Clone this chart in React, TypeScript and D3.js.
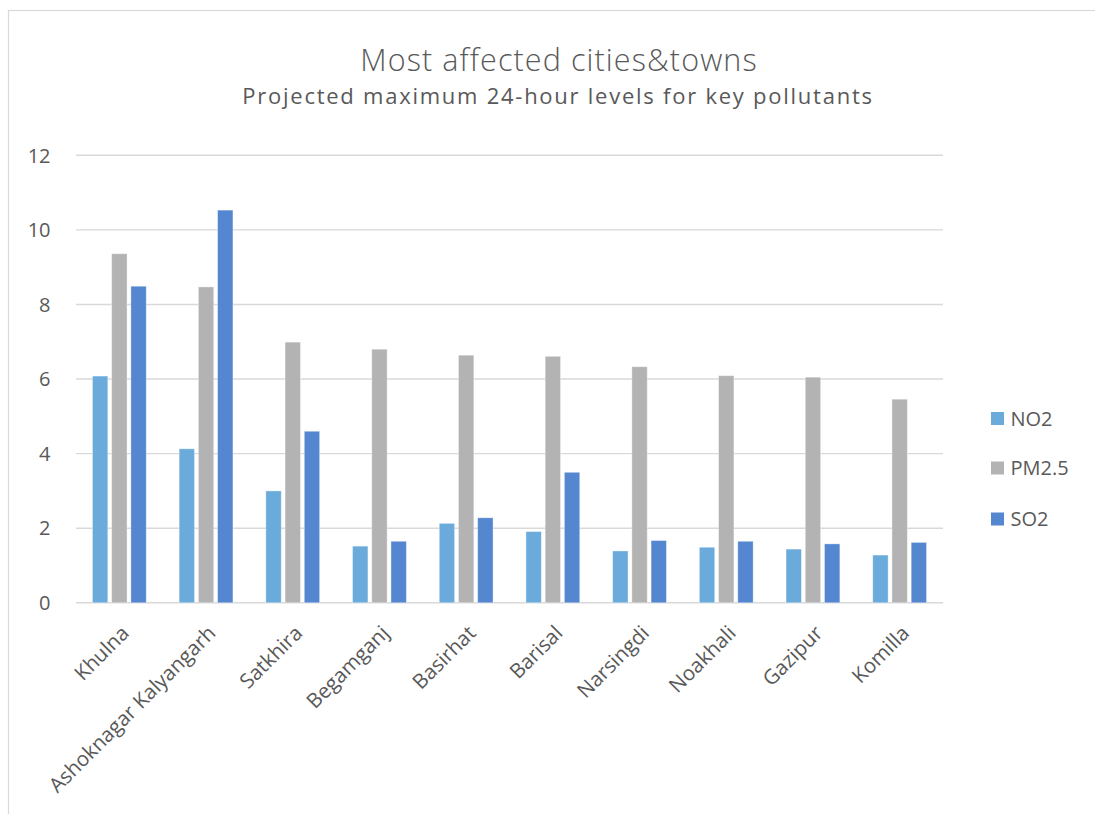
import React from "react";
import * as d3 from "d3";

const categories = [
  "Khulna",
  "Ashoknagar Kalyangarh",
  "Satkhira",
  "Begamganj",
  "Basirhat",
  "Barisal",
  "Narsingdi",
  "Noakhali",
  "Gazipur",
  "Komilla",
];
const seriesNames = ["NO2", "PM2.5", "SO2"];
const no2Values = [6.08, 4.13, 3.0, 1.52, 2.13, 1.91, 1.39, 1.49, 1.44, 1.28];
const pm25Values = [9.36, 8.47, 6.99, 6.8, 6.64, 6.61, 6.33, 6.09, 6.05, 5.46];
const so2Values = [8.49, 10.53, 4.6, 1.65, 2.28, 3.5, 1.67, 1.65, 1.58, 1.62];
const yTicks = [0, 2, 4, 6, 8, 10, 12];
const seriesColors = ["#6BABDB", "#B3B3B3", "#5487CF"];

const W = 1095;
const H = 814;
const FONT = "'Open Sans', 'DejaVu Sans', sans-serif";
const TEXT = "#595959";

export default function App() {
  const plotLeft = 76;
  const plotRight = 943;
  const plotTop = 155.3;
  const plotBottom = 602.8;

  const x0 = d3.scaleBand<string>().domain(categories).range([plotLeft, plotRight]).padding(0);
  const bw0 = x0.bandwidth();
  const x1 = d3
    .scaleBand<string>()
    .domain(seriesNames)
    .range([bw0 / 2 - 26.9, bw0 / 2 + 26.9])
    .paddingInner(0.2)
    .paddingOuter(0);
  const y = d3.scaleLinear().domain([0, 12]).range([plotBottom, plotTop]);

  const seriesValues = [no2Values, pm25Values, so2Values];

  const legendY = [418.5, 468, 519];

  return (
    <svg
      width={W}
      height={H}
      style={{ position: "absolute", left: 0, top: 0, display: "block", background: "#fff" }}
      fontFamily={FONT}
    >
      <rect x={0} y={0} width={W} height={H} fill="#fff" />
      {/* chart frame */}
      <rect x={8.5} y={10.5} width={W + 20} height={H + 20} fill="none" stroke="#D9D9D9" strokeWidth={1.2} />

      {/* titles */}
      <text
        x={559}
        y={71}
        textAnchor="middle"
        fontSize={30.5}
        fontWeight={300}
        letterSpacing={1.1}
        fill={TEXT}
      >
        Most affected cities&amp;towns
      </text>
      <text
        x={558}
        y={104}
        textAnchor="middle"
        fontSize={22}
        letterSpacing={1.75}
        fill={TEXT}
      >
        Projected maximum 24-hour levels for key pollutants
      </text>

      {/* gridlines */}
      {yTicks.map((t) => (
        <line
          key={"g" + t}
          x1={plotLeft}
          x2={plotRight}
          y1={y(t)}
          y2={y(t)}
          stroke="#D9D9D9"
          strokeWidth={1.4}
        />
      ))}

      {/* y tick labels */}
      {yTicks.map((t) => (
        <text
          key={"t" + t}
          x={50.5}
          y={y(t)}
          dy="0.36em"
          textAnchor="end"
          fontSize={20}
          fill={TEXT}
        >
          {t}
        </text>
      ))}

      {/* bars */}
      {categories.map((c, i) => (
        <g key={c} transform={`translate(${x0(c)},0)`}>
          {seriesNames.map((s, j) => {
            const v = seriesValues[j][i];
            return (
              <rect
                key={s}
                x={x1(s)}
                y={y(v)}
                width={x1.bandwidth()}
                height={y(0) - y(v)}
                fill={seriesColors[j]}
                stroke="#ffffff"
                strokeOpacity={0.45}
                strokeWidth={0.8}
              />
            );
          })}
        </g>
      ))}

      {/* x labels */}
      {categories.map((c) => {
        const cx = (x0(c) as number) + bw0 / 2;
        return (
          <text
            key={"x" + c}
            transform={`translate(${cx + 0.5},${624}) rotate(-45)`}
            textAnchor="end"
            dy="0.72em"
            fontSize={20.5}
            fill={TEXT}
          >
            {c}
          </text>
        );
      })}

      {/* legend */}
      {seriesNames.map((s, j) => (
        <g key={"l" + s} transform={`translate(991,${legendY[j]})`}>
          <rect x={0} y={-6.5} width={13} height={13} fill={seriesColors[j]} />
          <text x={19.5} y={0} dy="0.36em" fontSize={20} fill={TEXT}>
            {s}
          </text>
        </g>
      ))}
    </svg>
  );
}
